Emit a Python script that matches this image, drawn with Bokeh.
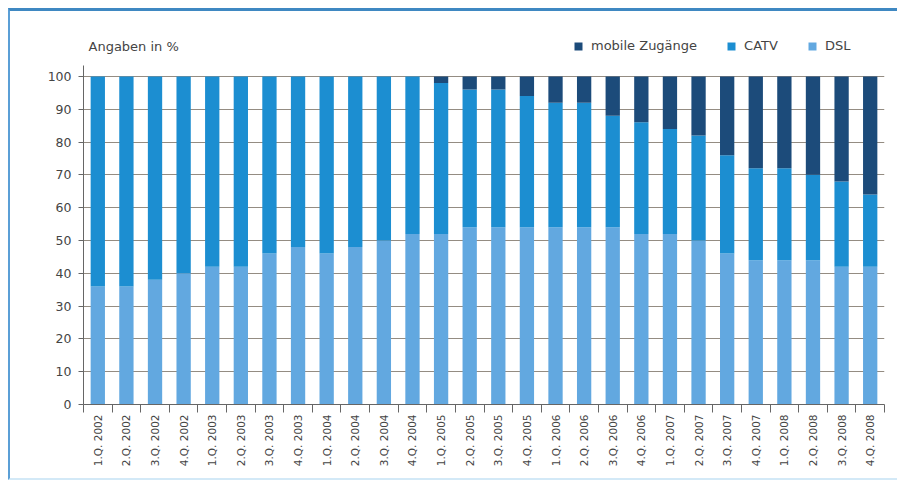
import math
from bokeh.plotting import figure
from bokeh.models import (Range1d, FixedTicker, Legend, LegendItem, Label)
from bokeh.embed import file_html
from bokeh.resources import INLINE

quarters = ["1.Q. 2002", "2.Q. 2002", "3.Q. 2002", "4.Q. 2002",
            "1.Q. 2003", "2.Q. 2003", "3.Q. 2003", "4.Q. 2003",
            "1.Q. 2004", "2.Q. 2004", "3.Q. 2004", "4.Q. 2004",
            "1.Q. 2005", "2.Q. 2005", "3.Q. 2005", "4.Q. 2005",
            "1.Q. 2006", "2.Q. 2006", "3.Q. 2006", "4.Q. 2006",
            "1.Q. 2007", "2.Q. 2007", "3.Q. 2007", "4.Q. 2007",
            "1.Q. 2008", "2.Q. 2008", "3.Q. 2008", "4.Q. 2008"]
dsl = [36, 36, 38, 40, 42, 42, 46, 48, 46, 48, 50, 52,
       52, 54, 54, 54, 54, 54, 54, 52, 52, 50, 46, 44,
       44, 44, 42, 42]
catv = [64, 64, 62, 60, 58, 58, 54, 52, 54, 52, 50, 48,
        46, 42, 42, 40, 38, 38, 34, 34, 32, 32, 30, 28,
        28, 26, 26, 22]
mobile = [0, 0, 0, 0, 0, 0, 0, 0, 0, 0, 0, 0,
          2, 4, 4, 6, 8, 8, 12, 14, 16, 18, 24, 28,
          28, 30, 32, 36]
y_ticks = [0, 10, 20, 30, 40, 50, 60, 70, 80, 90, 100]

series = ["DSL", "CATV", "mobile Zugänge"]
colors = ["#62a8e0", "#1c8ed1", "#1c4b7a"]
FONT = "DejaVu Sans"
TXT = "#444444"

pos = list(range(len(quarters)))
data = {"x": pos, "q": quarters, "DSL": dsl, "CATV": catv, "mobile Zugänge": mobile}

p = figure(x_range=Range1d(-0.5, len(quarters) - 0.5),
           y_range=Range1d(0, 114),
           width=889, height=472, output_backend="svg", toolbar_location=None,
           min_border_left=73, min_border_right=15,
           min_border_top=19, min_border_bottom=79)
p.styles = {"margin-left": "8px", "margin-top": "8px",
            "border-top": "3px solid #3f88c2", "border-left": "2px solid #5b9fd6",
            "border-bottom": "2px solid #d3e9f7"}
p.outline_line_color = None
p.background_fill_color = "white"
p.border_fill_color = "white"
p.xgrid.visible = False

rs = p.vbar_stack(series, x="x", width=0.5, color=colors, source=data,
                  line_color=None)

# y axis
ya = p.yaxis[0]
ya.bounds = (0, 103.35)
ya.ticker = FixedTicker(ticks=y_ticks)
ya.axis_line_color = "#666666"
ya.major_tick_line_color = "#666666"
ya.major_tick_out = 5
ya.major_tick_in = 0
ya.minor_tick_line_color = None
ya.major_label_standoff = 7
ya.major_label_text_font = FONT
ya.major_label_text_font_size = "12.5px"
ya.major_label_text_color = TXT
p.ygrid.ticker = FixedTicker(ticks=y_ticks)
p.ygrid.grid_line_color = "#948c82"
p.ygrid.grid_line_width = 1

# x axis: labels at bar centres, ticks between bars
xa = p.xaxis[0]
xa.ticker = FixedTicker(ticks=pos, minor_ticks=[i - 0.5 for i in range(len(quarters) + 1)])
xa.major_label_overrides = {i: q for i, q in zip(pos, quarters)}
xa.axis_line_color = "#666666"
xa.major_tick_line_color = None
xa.major_tick_out = 8
xa.major_tick_in = 0
xa.minor_tick_line_color = "#666666"
xa.minor_tick_out = 8
xa.minor_tick_in = 0
xa.major_label_orientation = math.pi / 2
xa.major_label_standoff = 2
xa.major_label_text_font = FONT
xa.major_label_text_font_size = "10.5px"
xa.major_label_text_color = TXT

# legend and title inside the (extended) frame
items = [LegendItem(label=series[i], renderers=[rs[i]]) for i in (2, 1, 0)]
leg = Legend(items=items, orientation="horizontal", location=(490, 351),
             glyph_width=10, glyph_height=10, label_standoff=8, spacing=29,
             padding=0, margin=0, label_height=14,
             label_text_font=FONT, label_text_font_size="13px",
             label_text_color=TXT, background_fill_alpha=0,
             border_line_color=None)
p.add_layout(leg, "center")

p.add_layout(Label(x=5, y=358, x_units="screen", y_units="screen",
                   text="Angaben in %", text_font=FONT, text_font_size="13px",
                   text_color=TXT, text_baseline="middle"))

open("out.html", "w").write(file_html(p, INLINE))
